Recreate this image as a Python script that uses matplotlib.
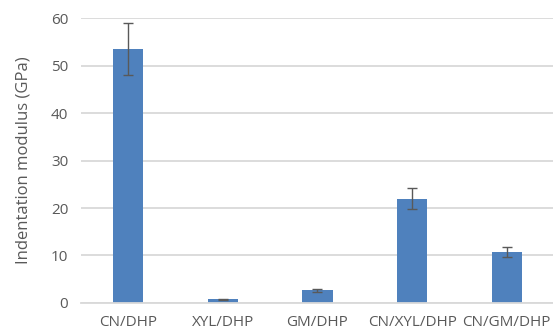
import matplotlib
matplotlib.use("Agg")
import matplotlib.pyplot as plt
import numpy as np

categories = ["CN/DHP", "XYL/DHP", "GM/DHP", "CN/XYL/DHP", "CN/GM/DHP"]
modulus = [53.5, 0.75, 2.65, 22.0, 10.7]
modulus_err = [5.4, 0.15, 0.35, 2.25, 1.1]
y_ticks = [0, 10, 20, 30, 40, 50, 60]

plt.rcParams['font.family'] = ['Open Sans', 'DejaVu Sans']

fig = plt.figure(figsize=(5.53, 3.30), dpi=100)
ax = fig.add_axes([0.146, 0.082, 0.856, 0.863])

x = np.arange(len(categories))
ax.bar(x, modulus, width=0.32, color='#4F81BD', zorder=2,
       yerr=modulus_err, error_kw=dict(ecolor='#595959', elinewidth=1.0,
                                       capsize=3.5, capthick=1.0, zorder=3))

ax.set_xlim(-0.5, len(categories) - 0.5)
ax.set_ylim(0, 60)
ax.set_yticks(y_ticks)
ax.set_xticks(x)
ax.set_xticklabels(categories)
ax.yaxis.grid(True, color='#D9D9D9', linewidth=1.3, zorder=0)
ax.set_axisbelow(True)

for s in ['top', 'right', 'left']:
    ax.spines[s].set_visible(False)
ax.spines['bottom'].set_color('#D9D9D9')
ax.spines['bottom'].set_linewidth(1.3)

ax.tick_params(axis='both', length=0, colors='#595959', labelsize=11)
ax.tick_params(axis='x', pad=9)
ax.tick_params(axis='y', pad=9)
ax.set_ylabel("Indentation modulus (GPa)", fontsize=12, color='#595959', labelpad=14)

fig.savefig("out.png", dpi=100)
